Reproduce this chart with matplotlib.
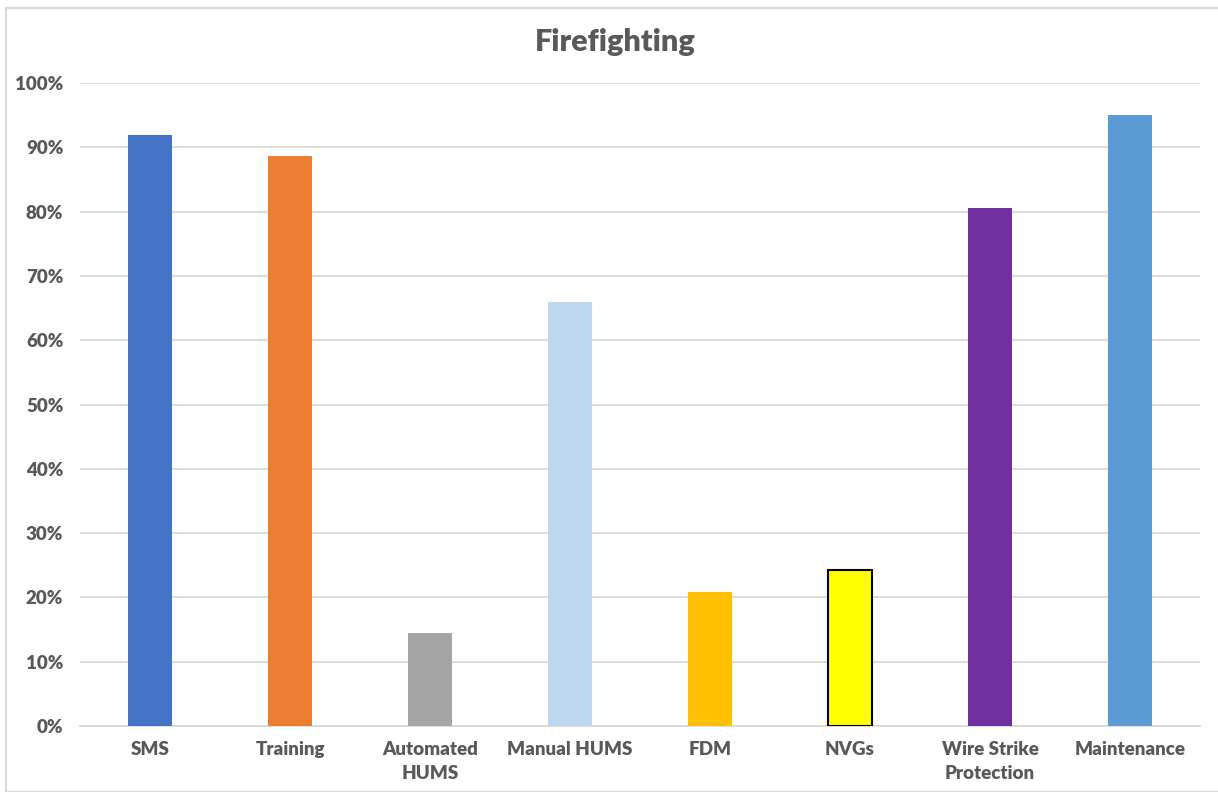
import matplotlib
matplotlib.use("Agg")
import matplotlib.pyplot as plt
from matplotlib.patches import Rectangle

categories = ["SMS", "Training", "Automated\nHUMS", "Manual HUMS", "FDM", "NVGs",
              "Wire Strike\nProtection", "Maintenance"]
values = [0.919, 0.887, 0.145, 0.660, 0.209, 0.242, 0.806, 0.950]
colors = ["#4472C4", "#ED7D31", "#A5A5A5", "#BDD7EE", "#FFC000", "#FFFF00",
          "#7030A0", "#5B9BD5"]
edgecolors = ["none", "none", "none", "none", "none", "black", "none", "none"]
yticks = [0, 0.1, 0.2, 0.3, 0.4, 0.5, 0.6, 0.7, 0.8, 0.9, 1.0]
ytick_labels = ["0%", "10%", "20%", "30%", "40%", "50%", "60%", "70%", "80%", "90%", "100%"]

plt.rcParams['font.family'] = ['Lato', 'DejaVu Sans']
text_color = "#595959"

W, H = 1218, 792
fig = plt.figure(figsize=(W / 100, H / 100), dpi=100)
ax = fig.add_axes([80 / W, 1 - 726 / H, (1200 - 80) / W, (726 - 83) / H])

x = list(range(len(categories)))
for i in x:
    ax.bar(i, values[i], width=0.315, color=colors[i],
           edgecolor=edgecolors[i] if edgecolors[i] != "none" else colors[i],
           linewidth=1.5 if edgecolors[i] != "none" else 0, zorder=3)

ax.set_xlim(-0.5, len(categories) - 0.5)
ax.set_ylim(0, 1.0)
ax.set_yticks(yticks)
ax.set_yticklabels(ytick_labels)
ax.set_xticks(x)
ax.set_xticklabels(categories, linespacing=1.45)
ax.yaxis.grid(True, color="#D9D9D9", linewidth=1.3, zorder=0)
ax.set_axisbelow(True)
for s in ["top", "right", "left"]:
    ax.spines[s].set_visible(False)
ax.spines["bottom"].set_color("#D9D9D9")
ax.spines["bottom"].set_linewidth(1.3)
ax.tick_params(axis="both", length=0, labelsize=13.5, labelcolor=text_color)
ax.tick_params(axis="x", pad=11)
ax.tick_params(axis="y", pad=12)
for lbl in ax.get_xticklabels() + ax.get_yticklabels():
    lbl.set_fontweight("heavy")
for lbl in ax.get_xticklabels():
    lbl.set_verticalalignment("top")

fig.text(615 / W, 1 - 42 / H, "Firefighting", ha="center", va="center",
         fontsize=22, fontweight="heavy", color=text_color)

fig.patches.append(Rectangle((6 / W, 0), 1.2, 1 - 8 / H, transform=fig.transFigure,
                             fill=False, edgecolor="#D9D9D9", linewidth=1.5))

fig.savefig("out.png", dpi=100)
